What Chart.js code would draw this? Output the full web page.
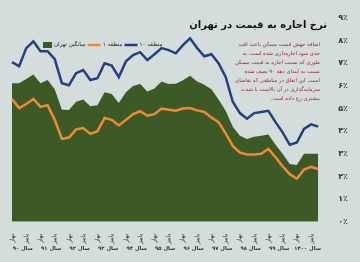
<!DOCTYPE html>
<html><head><meta charset="utf-8">
<script src="https://cdn.jsdelivr.net/npm/chart.js@4/dist/chart.umd.min.js"></script>
<style>html,body{margin:0;padding:0;background:#d4dcdc;}#wrap{width:360px;height:262px;}</style>
</head><body><div id="wrap"><canvas id="c" width="360" height="262"></canvas></div>
<script>
const years = ['سال ۹۰','سال ۹۱','سال ۹۲','سال ۹۳','سال ۹۴','سال ۹۵','سال ۹۶','سال ۹۷','سال ۹۸','سال ۹۹','سال ۱۴۰۰'];
const seasons = ['بهار','تابستان','پاییز','زمستان'];
const seriesNames = ['میانگین تهران','منطقه ۱','منطقه ۱۰'];
const tehranAvg = [6.12,6.12,6.3,6.5,6.12,6.26,5.85,4.95,4.93,5.3,5.4,5.1,5.15,5.72,5.64,5.24,5.72,6.0,6.08,5.75,5.88,6.2,6.08,6.1,6.25,6.45,6.2,6.05,5.85,5.4,4.9,4.2,3.8,3.65,3.75,3.8,3.85,3.4,3.0,2.55,2.5,3.0,3.0,3.0];
const region1 = [5.42,5.02,5.2,5.42,5.07,5.15,4.5,3.66,3.72,4.08,4.14,3.88,4.0,4.58,4.5,4.25,4.5,4.75,4.88,4.68,4.75,5.0,4.95,4.9,5.0,5.02,4.92,4.85,4.6,4.4,3.9,3.35,3.05,2.97,2.97,3.0,3.22,2.85,2.45,2.1,1.9,2.3,2.42,2.33];
const region10 = [7.05,6.87,7.67,7.97,7.53,7.53,7.18,6.12,6.03,6.56,6.7,6.26,6.34,7.0,6.9,6.39,7.09,7.36,7.49,7.14,7.4,7.67,7.58,7.44,7.8,8.1,7.67,7.31,7.4,7.0,6.4,5.3,4.8,4.55,4.8,4.85,4.9,4.4,3.95,3.4,3.5,4.1,4.3,4.2];
const yTicks = [0,1,2,3,4,5,6,7,8,9];
const titleText = 'نرخ اجاره به قیمت در تهران';
const noteLines = ['اضافه جهش قیمت مسکن باعث افت','جدی سود اجاره‌داری شده است. به','طوری که نسبت اجاره به قیمت مسکن','نسبت به ابتدای دهه ۹۰ نصف شده','است. این اتفاق در مناطقی که تقاضای','سرمایه‌گذاری در آن بالاست با شدت','بیشتری رخ داده است.'];

const labels = [];
years.forEach(() => seasons.forEach(s => labels.push(s)));
const fa = n => String(n).replace(/\d/g, d => '۰۱۲۳۴۵۶۷۸۹'[d]);
const FONT = "'DejaVu Sans', sans-serif";
const colors = {green:'#3d5a26', orange:'#ef8a33', blue:'#25407f'};

const extras = {
  id:'extras',
  afterDraw(chart){
    const ctx = chart.ctx, xs = chart.scales.x;
    ctx.save();
    ctx.direction = 'rtl';
    ctx.textAlign = 'right'; ctx.textBaseline = 'middle';
    ctx.fillStyle = '#111';
    ctx.font = 'bold 10px ' + FONT;
    ctx.fillText(titleText, 327, 25);
    ctx.fillStyle = '#a8262a';
    ctx.font = '5.3px ' + FONT;
    noteLines.forEach((l,i) => ctx.fillText(l, 320, 45 + i*8.9));
    ctx.textAlign = 'center';
    ctx.fillStyle = '#333';
    ctx.font = 'bold 5.3px ' + FONT;
    years.forEach((y,k) => {
      const x = (xs.getPixelForValue(4*k+1) + xs.getPixelForValue(4*k+2))/2;
      ctx.fillText(y, x, 249);
    });
    // legend
    ctx.font = '5.6px ' + FONT;
    ctx.textAlign = 'left';
    ctx.fillStyle = colors.green;
    ctx.fillRect(43, 42, 9, 6);
    ctx.fillStyle = '#222';
    let x = 54;
    ctx.fillText(seriesNames[0], x, 45);
    x += ctx.measureText(seriesNames[0]).width + 2;
    ctx.strokeStyle = colors.orange; ctx.lineWidth = 2.5;
    ctx.beginPath(); ctx.moveTo(x, 45); ctx.lineTo(x+13, 45); ctx.stroke();
    x += 15;
    ctx.fillText(seriesNames[1], x, 45);
    x += ctx.measureText(seriesNames[1]).width + 2;
    ctx.strokeStyle = colors.blue;
    ctx.beginPath(); ctx.moveTo(x, 45); ctx.lineTo(x+13, 45); ctx.stroke();
    x += 15;
    ctx.fillText(seriesNames[2], x, 45);
    ctx.restore();
  }
};

new Chart(document.getElementById('c'), {
  type:'line',
  data:{
    labels,
    datasets:[
      {label:seriesNames[2], data:region10, borderColor:colors.blue, borderWidth:2.5, pointRadius:0, fill:false, order:1},
      {label:seriesNames[1], data:region1, borderColor:colors.orange, borderWidth:2.5, pointRadius:0, fill:false, order:2},
      {label:seriesNames[0], data:tehranAvg, borderColor:colors.green, backgroundColor:colors.green, borderWidth:0, pointRadius:0, fill:'origin', order:3}
    ]
  },
  options:{
    responsive:false, animation:false,
    layout:{padding:{left:12, right:0, top:18, bottom:14}},
    plugins:{legend:{display:false}, title:{display:false}, tooltip:{enabled:false}},
    elements:{line:{tension:0}},
    scales:{
      x:{
        offset:false,
        grid:{display:false}, border:{display:false},
        ticks:{autoSkip:false, minRotation:90, maxRotation:90, padding:4,
          font:{family:FONT, size:6}, color:'#333',
          callback:(v,i) => i%2===0 ? labels[i] : ''}
      },
      y:{
        position:'right', min:0, max:9,
        grid:{display:false}, border:{display:false},
        afterBuildTicks: s => { s.ticks = yTicks.map(v => ({value:v})); },
        ticks:{padding:12, font:{family:FONT, size:8, weight:'bold'}, color:'#333',
          callback:v => fa(v) + '٪'}
      }
    }
  },
  plugins:[extras]
});
</script></body></html>
